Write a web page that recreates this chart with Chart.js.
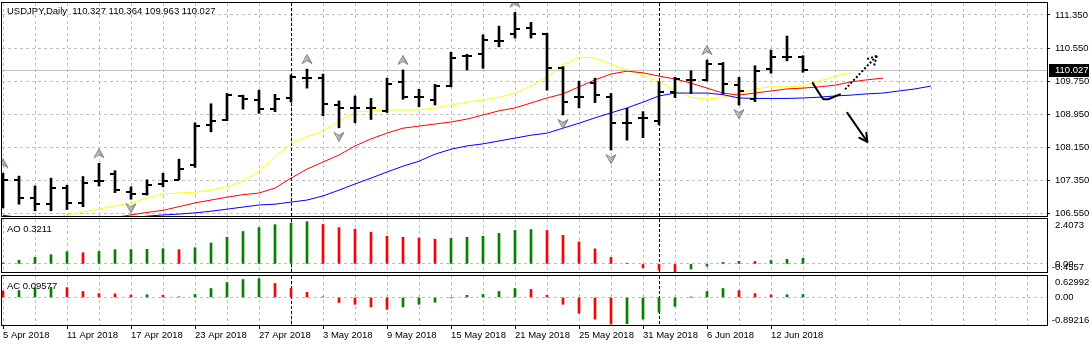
<!DOCTYPE html>
<html>
<head>
<meta charset="utf-8">
<title>USDJPY Daily</title>
<script src="https://cdn.jsdelivr.net/npm/chart.js@4.4.1/dist/chart.umd.min.js"></script>
<style>
  html, body { margin: 0; padding: 0; background: #fff; }
  #wrap { position: relative; width: 1091px; height: 347px; overflow: hidden; }
  #wrap canvas { position: absolute; left: 0; }
  #priceCanvas { top: 0; }
  #aoCanvas { top: 217px; }
  #acCanvas { top: 273px; }
</style>
</head>
<body>
<div id="wrap">
  <canvas id="priceCanvas" width="1091" height="217"></canvas>
  <canvas id="aoCanvas" width="1091" height="56"></canvas>
  <canvas id="acCanvas" width="1091" height="74"></canvas>
</div>
<script>
// USDJPY daily bars with Alligator, fractals, AO and AC

const symbol = 'USDJPY,Daily';
const dateLabels = ['5 Apr 2018', '11 Apr 2018', '17 Apr 2018', '23 Apr 2018', '27 Apr 2018', '3 May 2018',
  '9 May 2018', '15 May 2018', '21 May 2018', '25 May 2018', '31 May 2018', '6 Jun 2018', '12 Jun 2018'];
const labelEvery = 4; // one date label per 4 bars

const open = [107.45, 107.36, 106.93, 106.77, 107.17, 106.79, 107.33, 107.50, 107.07, 107.01,
  107.26, 107.36, 107.73, 108.69, 108.81, 109.40, 109.29, 109.07, 109.35, 109.83,
  109.82, 109.17, 109.09, 109.10, 109.03, 109.72, 109.37, 109.29, 109.64, 110.36,
  110.41, 110.73, 110.88, 111.03, 110.89, 110.06, 109.37, 109.70, 109.37, 108.74,
  108.85, 108.79, 109.48, 109.78, 109.78, 110.16, 109.66, 109.31, 110.04, 110.34, 110.327];
const high = [107.52, 107.45, 107.21, 107.40, 107.23, 107.44, 107.76, 107.58, 107.19, 107.36,
  107.52, 107.86, 108.74, 109.20, 109.45, 109.41, 109.53, 109.43, 109.90, 110.04,
  109.92, 109.27, 109.39, 109.33, 109.82, 110.02, 109.55, 109.67, 110.45, 110.40,
  110.87, 111.08, 111.41, 111.17, 110.91, 110.10, 109.75, 109.82, 109.45, 109.09,
  109.01, 109.74, 109.84, 110.00, 110.26, 110.20, 109.84, 110.12, 110.50, 110.84, 110.364];
const low = [106.68, 106.77, 106.61, 106.61, 106.64, 106.71, 107.21, 107.05, 106.89, 106.99,
  107.19, 107.36, 107.66, 108.52, 108.79, 109.07, 108.97, 109.01, 109.24, 109.58,
  108.91, 108.62, 108.74, 108.82, 108.99, 109.31, 109.13, 109.17, 109.61, 110.02,
  110.06, 110.58, 110.79, 110.79, 109.53, 108.93, 109.10, 109.23, 108.08, 108.32,
  108.38, 108.69, 109.35, 109.45, 109.75, 109.44, 109.17, 109.25, 109.94, 110.24, 109.963];
const close = [107.36, 106.92, 106.77, 107.17, 106.80, 107.29, 107.33, 107.11, 107.01, 107.23,
  107.33, 107.61, 108.67, 108.79, 109.41, 109.31, 109.07, 109.31, 109.84, 109.83,
  109.19, 109.09, 109.09, 109.10, 109.68, 109.36, 109.37, 109.64, 110.32, 110.36,
  110.75, 110.73, 111.01, 110.89, 110.06, 109.25, 109.37, 109.41, 108.74, 108.74,
  108.85, 109.49, 109.79, 109.78, 110.16, 109.68, 109.52, 110.00, 110.34, 110.34, 110.027];

// Alligator lines, already shifted forward (lips +3, teeth +5, jaw +8)
const lips = [106.10, 106.19, 106.29, 106.41, 106.51, 106.58, 106.65, 106.73, 106.80, 106.92,
  107.02, 107.04, 107.06, 107.11, 107.19, 107.33, 107.57, 107.91, 108.25, 108.40,
  108.54, 108.78, 109.00, 109.03, 109.05, 109.05, 109.05, 109.10, 109.17, 109.24,
  109.29, 109.36, 109.46, 109.63, 109.85, 110.14, 110.33, 110.31, 110.16, 110.02,
  109.90, 109.73, 109.53, 109.36, 109.31, 109.36, 109.46, 109.56, 109.61, 109.61,
  109.63, 109.75, 109.87, 109.95];
const teeth = [null, null, null, null, null, null, 106.39, 106.45, 106.51, 106.57,
  106.62, 106.71, 106.80, 106.87, 106.94, 107.00, 107.04, 107.16, 107.40, 107.62,
  107.79, 107.96, 108.18, 108.35, 108.49, 108.61, 108.66, 108.71, 108.76, 108.83,
  108.93, 109.03, 109.10, 109.22, 109.34, 109.44, 109.61, 109.78, 109.92, 109.99,
  109.95, 109.87, 109.80, 109.70, 109.58, 109.46, 109.41, 109.46, 109.51, 109.56,
  109.58, 109.61, 109.65, 109.73, 109.78, 109.82];
const jaw = [106.50, 106.45, 106.42, 106.40, 106.39, 106.39, 106.40, 106.41, 106.44, 106.48,
  106.51, 106.53, 106.56, 106.60, 106.65, 106.70, 106.75, 106.77, 106.82, 106.87,
  106.97, 107.11, 107.26, 107.40, 107.55, 107.69, 107.81, 107.98, 108.10, 108.18,
  108.23, 108.30, 108.37, 108.44, 108.49, 108.61, 108.73, 108.86, 108.98, 109.10,
  109.24, 109.39, 109.46, 109.46, 109.46, 109.42, 109.34, 109.33, 109.33, 109.33,
  109.34, 109.36, 109.39, 109.41, 109.44, 109.46, 109.51, 109.56, 109.63];

const aoBefore = -0.04; // bar before the first one, sets the first colour
const ao = [0.05, 0.20, 0.38, 0.53, 0.70, 0.64, 0.71, 0.81, 0.82, 0.83,
  0.87, 0.81, 0.92, 1.19, 1.52, 1.85, 2.07, 2.24, 2.33, 2.4073,
  2.25, 2.07, 1.98, 1.81, 1.58, 1.52, 1.48, 1.41, 1.46, 1.52,
  1.58, 1.74, 1.91, 1.96, 1.91, 1.63, 1.25, 0.86, 0.37, 0.04,
  -0.22, -0.35, -0.4557, -0.29, -0.13, 0.09, 0.15, 0.14, 0.20, 0.26, 0.3211];
const acBefore = 0.30;
const ac = [0.22, 0.23, 0.32, 0.34, 0.33, 0.20, 0.13, 0.12, 0.08, 0.09,
  0.07, 0.02, 0.10, 0.30, 0.50, 0.60, 0.62992, 0.47, 0.30, 0.17,
  0.02, -0.17, -0.23, -0.32, -0.40, -0.32, -0.23, -0.16, -0.01, 0.07,
  0.10, 0.20, 0.30, 0.27, 0.07, -0.23, -0.53, -0.73, -0.89216, -0.88,
  -0.73, -0.50, -0.30, 0.01, 0.20, 0.30, 0.23, 0.13, 0.085, 0.09, 0.09577];

const fractalUp = [0, 6, 19, 25, 32, 44];
const fractalDown = [8, 21, 35, 38, 46];

const priceTicks = [111.35, 110.55, 109.75, 108.95, 108.15, 107.35, 106.55];
const aoTicks = [2.4073, 0, -0.4557];
const acTicks = [0.62992, 0, -0.89216];
const separators = [18, 41]; // 1 May, 1 Jun

// hand-drawn marks, as [bar, price]
const hookPath = [[50.61, 109.70], [51.17, 109.36], [51.27, 109.31], [51.58, 109.31], [52.31, 109.43]];
const upArrow = [[52.63, 109.55], [54.61, 110.36]];
const downArrow = [[52.77, 108.98], [54.02, 108.28]];

// visible ranges
const X_MIN = -0.0625, X_MAX = 65.25;
const PRICE_MIN = 106.484, PRICE_MAX = 111.64;
const AO_MIN = -0.46, AO_MAX = 2.56;
const AC_MIN = -0.926, AC_MAX = 0.72;

const FONT = '"Liberation Sans", Arial, sans-serif';
const FONT_SIZE = 9.5;
const GRID = '#c0c0c0';
const GREEN = '#008000', RED = '#ff0000';

Chart.defaults.font.family = FONT;
Chart.defaults.font.size = FONT_SIZE;
Chart.defaults.color = '#000';
Chart.defaults.animation = false;

const gridBars = [];
for (let i = 0; i <= 64; i += 2) gridBars.push(i);

function dateFor(v) {
  return v % labelEvery === 0 ? (dateLabels[v / labelEvery] || '') : '';
}

// keep label overhang from shrinking the plot area
function noOverhang(s) {
  s.paddingTop = 0; s.paddingBottom = 0; s.paddingLeft = 0; s.paddingRight = 0;
}

function barAxis(withDates) {
  return {
    type: 'linear', min: X_MIN, max: X_MAX, offset: false,
    afterBuildTicks: s => { s.ticks = gridBars.map(v => ({ value: v })); },
    afterFit: s => { s.height = withDates ? 22 : 0; noOverhang(s); },
    grid: {
      offset: false, color: GRID, drawTicks: withDates, tickLength: 4,
      tickColor: c => (c.tick && dateFor(c.tick.value)) ? '#000' : 'rgba(0,0,0,0)'
    },
    border: { display: false, dash: [3, 3] },
    ticks: { display: withDates, align: 'start', padding: 1, maxRotation: 0, minRotation: 0, autoSkip: false, callback: v => dateFor(v) }
  };
}

function oscAxis(min, max) {
  return {
    position: 'right', min, max,
    afterBuildTicks: s => { s.ticks = [{ value: 0 }]; },
    afterFit: s => { s.width = 44; noOverhang(s); },
    grid: { color: GRID, drawTicks: false },
    border: { display: false, dash: [3, 3] },
    ticks: { display: false }
  };
}

function drawFrame(chart) {
  const { ctx, chartArea: a } = chart;
  ctx.save();
  ctx.strokeStyle = '#000';
  ctx.lineWidth = 1;
  ctx.strokeRect(a.left - 0.5, a.top - 0.5, a.right - a.left + 1, a.bottom - a.top + 1);
  ctx.restore();
}

function drawSeparators(chart) {
  const { ctx, chartArea: a, scales: { x } } = chart;
  ctx.save();
  ctx.strokeStyle = '#000';
  ctx.lineWidth = 1;
  ctx.setLineDash([3, 2]);
  separators.forEach(i => {
    const px = Math.round(x.getPixelForValue(i)) + 0.5;
    ctx.beginPath();
    ctx.moveTo(px, a.top);
    ctx.lineTo(px, a.bottom);
    ctx.stroke();
  });
  ctx.restore();
}

// small OHLC tick images: left half for open, right half for close
function tickImage(side) {
  const c = document.createElement('canvas');
  c.width = 10; c.height = 2;
  const g = c.getContext('2d');
  g.fillStyle = '#000';
  g.fillRect(side < 0 ? 0 : 5, 0, 5, 2);
  return c;
}

// grey fractal arrow, offset from the bar end it marks
function fractalImage(up) {
  const c = document.createElement('canvas');
  c.width = 12; c.height = 40;
  const g = c.getContext('2d');
  g.translate(6, up ? 10 : 29);
  if (!up) g.scale(1, -1);
  g.beginPath();
  g.moveTo(0, -4.5);
  g.lineTo(5, 4.5);
  g.lineTo(0, 1.5);
  g.lineTo(-5, 4.5);
  g.closePath();
  const grad = g.createLinearGradient(-5, 0, 5, 0);
  grad.addColorStop(0, '#e4e4e4');
  grad.addColorStop(1, '#8a8a8a');
  g.fillStyle = grad;
  g.fill();
  g.strokeStyle = '#808080';
  g.lineWidth = 1;
  g.stroke();
  return c;
}

function arrowHead(ctx, from, to, len) {
  const ang = Math.atan2(to[1] - from[1], to[0] - from[0]);
  ctx.beginPath();
  [-0.5, 0.5].forEach(d => {
    ctx.moveTo(to[0], to[1]);
    ctx.lineTo(to[0] - len * Math.cos(ang + d), to[1] - len * Math.sin(ang + d));
  });
  ctx.stroke();
}

const noUi = { legend: { display: false }, tooltip: { enabled: false } };
const series = arr => arr.map((v, i) => ({ x: i, y: v }));
const last = arr => arr[arr.length - 1];

// ---- price panel ----
const priceDecor = {
  id: 'priceDecor',
  beforeDatasetsDraw(chart) {
    const { ctx, chartArea: a, scales: { y } } = chart;
    const py = Math.round(y.getPixelForValue(last(close))) + 0.5;
    ctx.save();
    ctx.strokeStyle = '#c0c0c0';
    ctx.lineWidth = 1;
    ctx.beginPath();
    ctx.moveTo(a.left, py);
    ctx.lineTo(a.right, py);
    ctx.stroke();
    ctx.restore();
    drawSeparators(chart);
  },
  afterDatasetsDraw(chart) {
    const { ctx, chartArea: a, scales: { x, y } } = chart;
    const px = p => [x.getPixelForValue(p[0]), y.getPixelForValue(p[1])];
    ctx.save();
    ctx.beginPath();
    ctx.rect(a.left, a.top, a.right - a.left, a.bottom - a.top);
    ctx.clip();
    ctx.strokeStyle = '#000';
    ctx.lineWidth = 2;
    ctx.lineJoin = 'round';
    ctx.lineCap = 'round';
    const hook = hookPath.map(px);
    ctx.beginPath();
    hook.forEach((p, i) => i ? ctx.lineTo(p[0], p[1]) : ctx.moveTo(p[0], p[1]));
    ctx.stroke();

    const dn = downArrow.map(px);
    ctx.beginPath();
    ctx.moveTo(dn[0][0], dn[0][1]);
    ctx.lineTo(dn[1][0], dn[1][1]);
    ctx.stroke();
    arrowHead(ctx, dn[0], dn[1], 9);

    ctx.lineCap = 'butt';
    ctx.setLineDash([2, 2]);
    const up = upArrow.map(px);
    ctx.beginPath();
    ctx.moveTo(up[0][0], up[0][1]);
    ctx.lineTo(up[1][0], up[1][1]);
    ctx.stroke();
    arrowHead(ctx, up[0], up[1], 10);
    ctx.restore();
  },
  afterDraw(chart) {
    const { ctx, chartArea: a, scales: { y } } = chart;
    drawFrame(chart);
    ctx.save();
    ctx.font = FONT_SIZE + 'px ' + FONT;
    ctx.fillStyle = '#000';
    ctx.textBaseline = 'alphabetic';
    ctx.textAlign = 'left';
    const n = close.length - 1;
    ctx.fillText(symbol + '  ' + [open[n], high[n], low[n], close[n]].map(v => v.toFixed(3)).join(' '), 7, 14);

    // last price box on the axis
    const py = Math.round(y.getPixelForValue(last(close)));
    ctx.fillStyle = '#000';
    ctx.fillRect(a.right + 2, py - 6, 40, 13);
    ctx.fillStyle = '#fff';
    ctx.textBaseline = 'middle';
    ctx.fillText(last(close).toFixed(3), a.right + 8, py + 0.5);
    ctx.restore();
  }
};

new Chart(document.getElementById('priceCanvas'), {
  type: 'bar',
  data: {
    datasets: [
      { type: 'bar', data: high.map((h, i) => ({ x: i, y: [low[i], h] })), backgroundColor: '#000',
        barThickness: 2, borderWidth: 0, clip: 0, order: 1 },
      { type: 'line', data: series(open), showLine: false, pointStyle: tickImage(-1), pointRadius: 5, clip: 0, order: 0 },
      { type: 'line', data: series(close), showLine: false, pointStyle: tickImage(1), pointRadius: 5, clip: 0, order: 0 },
      { type: 'line', data: series(jaw), borderColor: '#0000ff', borderWidth: 1, pointRadius: 0, tension: 0, clip: 0, order: 2 },
      { type: 'line', data: series(teeth), borderColor: '#ff0000', borderWidth: 1, pointRadius: 0, tension: 0, clip: 0, order: 2 },
      { type: 'line', data: series(lips), borderColor: '#ffff00', borderWidth: 1, pointRadius: 0, tension: 0, clip: 0, order: 2 },
      { type: 'line', data: fractalUp.map(i => ({ x: i, y: high[i] })), showLine: false,
        pointStyle: fractalImage(true), pointRadius: 20, clip: 0, order: 0 },
      { type: 'line', data: fractalDown.map(i => ({ x: i, y: low[i] })), showLine: false,
        pointStyle: fractalImage(false), pointRadius: 20, clip: 0, order: 0 }
    ]
  },
  options: {
    responsive: false,
    events: [],
    layout: { autoPadding: false, padding: { left: 2, right: 0, top: 3, bottom: 1 } },
    plugins: noUi,
    scales: {
      x: barAxis(false),
      y: {
        position: 'right', min: PRICE_MIN, max: PRICE_MAX,
        afterBuildTicks: s => { s.ticks = priceTicks.map(v => ({ value: v })); },
        afterFit: s => { s.width = 44; noOverhang(s); },
        grid: { color: GRID, tickLength: 3, tickColor: '#000' },
        border: { display: false, dash: [3, 3] },
        ticks: { padding: 5, callback: v => v.toFixed(3) }
      }
    }
  },
  plugins: [priceDecor]
});

// ---- oscillator panels ----
function barColors(values, before) {
  return values.map((v, i) => v > (i ? values[i - 1] : before) ? GREEN : RED);
}

function oscDecor(name, values, ticks) {
  return {
    id: 'oscDecor' + name,
    beforeDatasetsDraw(chart) { drawSeparators(chart); },
    afterDraw(chart) {
      const { ctx, chartArea: a, scales: { y } } = chart;
      drawFrame(chart);
      ctx.save();
      ctx.font = FONT_SIZE + 'px ' + FONT;
      ctx.fillStyle = '#000';
      ctx.textAlign = 'left';
      ctx.textBaseline = 'alphabetic';
      ctx.fillText(name + ' ' + last(values), 7, a.top + 13);
      ctx.textBaseline = 'middle';
      const minus = ctx.measureText('-').width;
      ticks.forEach(v => {
        const py = Math.min(Math.max(y.getPixelForValue(v), a.top + 6), a.bottom - 5);
        const text = v === 0 ? '0.00' : String(v);
        ctx.fillText(text, a.right + 8 - (v < 0 ? minus : 0), py);
      });
      ctx.restore();
    }
  };
}

new Chart(document.getElementById('aoCanvas'), {
  type: 'bar',
  data: { datasets: [{ data: series(ao), backgroundColor: barColors(ao, aoBefore), barThickness: 2, borderWidth: 0, clip: 0 }] },
  options: {
    responsive: false,
    events: [],
    layout: { autoPadding: false, padding: { left: 2, right: 0, top: 2, bottom: 1 } },
    plugins: noUi,
    scales: { x: barAxis(false), y: oscAxis(AO_MIN, AO_MAX) }
  },
  plugins: [oscDecor('AO', ao, aoTicks)]
});

new Chart(document.getElementById('acCanvas'), {
  type: 'bar',
  data: { datasets: [{ data: series(ac), backgroundColor: barColors(ac, acBefore), barThickness: 2, borderWidth: 0, clip: 0 }] },
  options: {
    responsive: false,
    events: [],
    layout: { autoPadding: false, padding: { left: 2, right: 0, top: 3, bottom: 0 } },
    plugins: noUi,
    scales: { x: barAxis(true), y: oscAxis(AC_MIN, AC_MAX) }
  },
  plugins: [oscDecor('AC', ac, acTicks)]
});
</script>
</body>
</html>
